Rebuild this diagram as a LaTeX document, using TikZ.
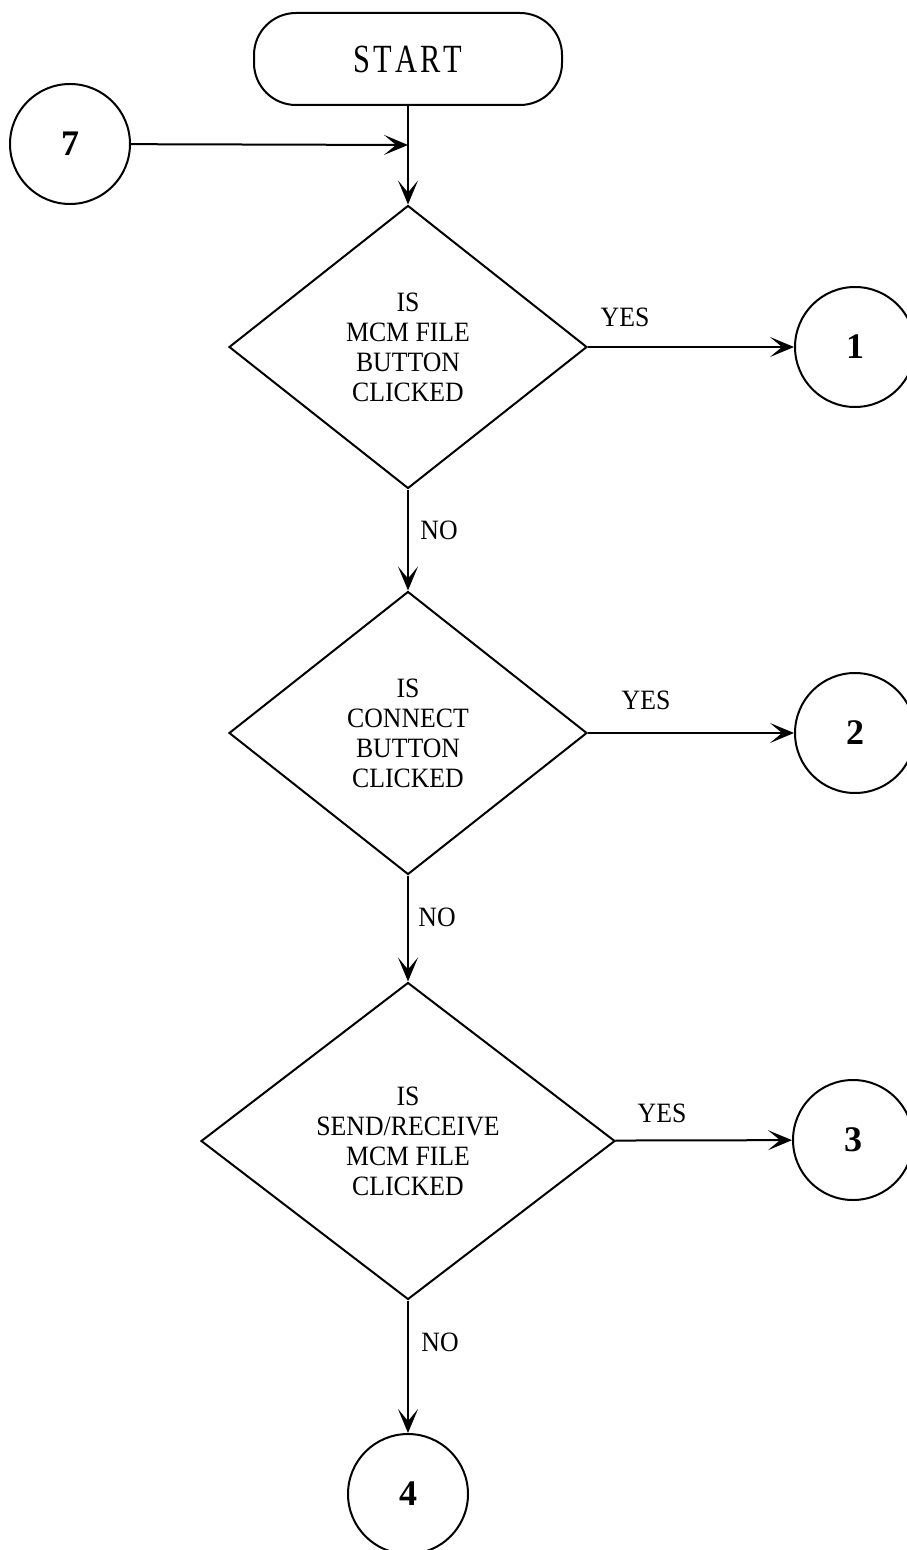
\documentclass[tikz,border=0pt]{standalone}
\usepackage{fontspec}
\setmainfont{Liberation Serif}
\newfontfamily\condfont[FakeStretch=0.92]{Liberation Serif}
\usetikzlibrary{shapes, shapes.geometric, arrows.meta}

\begin{document}
\begin{tikzpicture}[x=0.5pt, y=-0.5pt,
        line width=1pt,
        flowline/.style={-{Stealth[length=12pt, width=10pt, inset=6pt]}},
        decision/.style={diamond, draw, inner sep=0pt, align=center,
            font=\condfont\fontsize{14}{15}\selectfont},
        connector/.style={circle, draw, minimum size=60pt, inner sep=0pt,
            font=\fontsize{18}{20}\selectfont\bfseries},
        terminal/.style={rectangle, rounded corners=21pt, draw,
            minimum width=154pt, minimum height=46pt},
        answer/.style={font=\condfont\fontsize{14}{15}\selectfont}]
    % Define dimensions
    \def\midx{408}
    \def\outx{855}
    % Page frame
    \useasboundingbox (0,0) rectangle (906,1550);
    % Start and entry from connector 7
    \node[terminal] (start) at (\midx,59)
        {\fontsize{20}{22}\selectfont\scalebox{0.76}[1]{S\kern2pt T\kern2pt A\kern2pt R\kern2pt T}};
    \node[connector] (c7) at (70,144) {7};
    \coordinate (join) at (\midx,145);
    % Decisions
    \node[decision, minimum width=179pt, minimum height=141.5pt] (d1) at (\midx,347)
        {IS\\MCM FILE\\BUTTON\\CLICKED};
    \node[decision, minimum width=179pt, minimum height=141.5pt] (d2) at (\midx,733)
        {IS\\CONNECT\\BUTTON\\CLICKED};
    \node[decision, minimum width=207pt, minimum height=158.5pt] (d3) at (\midx,1141)
        {IS\\SEND/RECEIVE\\MCM FILE\\CLICKED};
    % Off-page connectors
    \node[connector] (c1) at (\outx,347) {1};
    \node[connector] (c2) at (\outx,733) {2};
    \node[connector] (c3) at (853,1140) {3};
    \node[connector] (c4) at (\midx,1494) {4};
    % Answer labels
    \node[answer] (yes1) at (625,317) {YES};
    \node[answer] (yes2) at (646,700) {YES};
    \node[answer] (yes3) at (662,1113) {YES};
    \node[answer] (no1) at (439,530) {NO};
    \node[answer] (no2) at (437,917) {NO};
    \node[answer] (no3) at (440,1342) {NO};
    % Flow lines
    \draw[flowline] (c7) -- (join);
    \draw[flowline] (start) -- (d1);
    \draw[flowline] (d1) -- (c1);
    \draw[flowline] (d1) -- (d2);
    \draw[flowline] (d2) -- (c2);
    \draw[flowline] (d2) -- (d3);
    \draw[flowline] (d3) -- (c3);
    \draw[flowline] (d3) -- (c4);
\end{tikzpicture}
\end{document}
